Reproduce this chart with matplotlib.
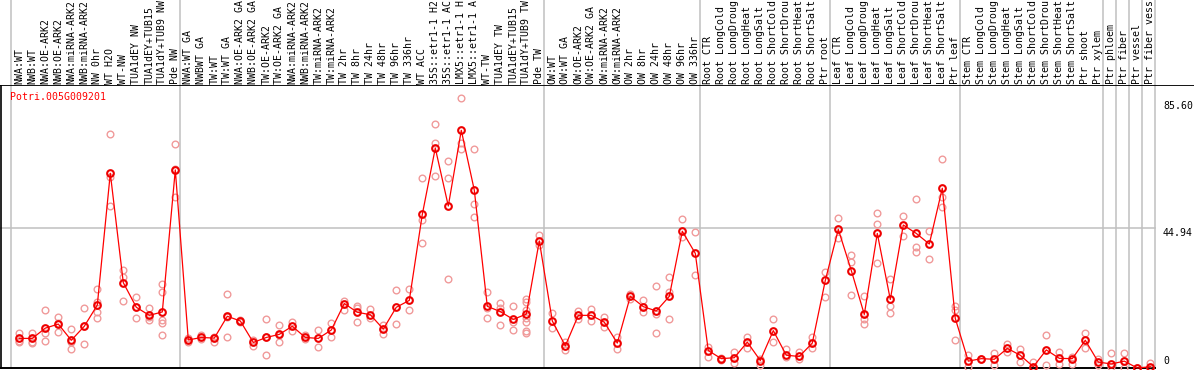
import matplotlib
matplotlib.use('Agg')
import matplotlib.pyplot as plt
import numpy as np

# 1. Data
gene = 'Potri.005G009201'

group_sizes = [13, 28, 12, 10, 10, 11, 1, 1, 1, 1]

samples = [
    'NWA:WT', 'NWB:WT', 'NWA:OE-ARK2', 'NWB:OE-ARK2', 'NWA:miRNA-ARK2', 'NWB:miRNA-ARK2',
    'NW 0hr', 'WT H2O', 'WT-NW', 'TUA1dEY NW', 'TUA1dEY+TUB15', 'TUA1dY+TUB9 NW', 'Pde NW',
    'NWA:WT GA', 'NWBWT GA', 'TW:WT', 'TW:WT GA', 'NWA:OE-ARK2 GA', 'NWB:OE-ARK2 GA',
    'TW:OE-ARK2', 'TW:OE-ARK2 GA', 'NWA:miRNA-ARK2 GA', 'NWB:miRNA-ARK2 GA', 'TW:miRNA-ARK2',
    'TW:miRNA-ARK2 GA', 'TW 2hr', 'TW 8hr', 'TW 24hr', 'TW 48hr', 'TW 96hr', 'TW 336hr',
    'WT ACC', '35S::etr1-1 H2O', '35S::etr1-1 ACC', 'LMX5::etr1-1 H2O', 'LMX5::etr1-1 ACC',
    'WT-TW', 'TUA1dEY TW', 'TUA1dEY+TUB15', 'TUA1dY+TUB9 TW', 'Pde TW',
    'OW:WT', 'OW:WT GA', 'OW:OE-ARK2', 'OW:OE-ARK2 GA', 'OW:miRNA-ARK2', 'OW:miRNA-ARK2 GA',
    'OW 2hr', 'OW 8hr', 'OW 24hr', 'OW 48hr', 'OW 96hr', 'OW 336hr',
    'Root CTR', 'Root LongCold', 'Root LongDrought', 'Root LongHeat', 'Root LongSalt',
    'Root ShortCold', 'Root ShortDrought', 'Root ShortHeat', 'Root ShortSalt', 'Ptr root',
    'Leaf CTR', 'Leaf LongCold', 'Leaf LongDrought', 'Leaf LongHeat', 'Leaf LongSalt',
    'Leaf ShortCold', 'Leaf ShortDrought', 'Leaf ShortHeat', 'Leaf ShortSalt', 'Ptr leaf',
    'Stem CTR', 'Stem LongCold', 'Stem LongDrought', 'Stem LongHeat', 'Stem LongSalt',
    'Stem ShortCold', 'Stem ShortDrought', 'Stem ShortHeat', 'Stem ShortSalt', 'Ptr shoot',
    'Ptr xylem', 'Ptr phloem', 'Ptr fiber', 'Ptr vessel', 'Ptr fiber vessel',
]

means = [
    9.5, 9.5, 12.8, 14.1, 8.9, 13.4, 20.2, 62.5, 27.4, 19.5, 16.9, 18.0, 63.6,
    9.0, 9.8, 9.6, 16.6, 15.1, 8.2, 9.8, 10.8, 13.4, 9.8, 9.5, 12.2, 20.7, 17.9, 17.1,
    12.5, 19.5, 21.7, 49.3, 70.6, 52.0, 76.3, 57.1, 19.8, 18.1, 15.6, 17.3, 40.8,
    15.1, 7.1, 16.9, 16.9, 14.7, 8.0, 23.0, 19.7, 18.3, 23.0, 43.9, 36.8,
    5.6, 3.0, 3.3, 8.3, 2.4, 12.0, 4.1, 3.7, 8.0, 28.1,
    44.5, 31.3, 17.2, 43.2, 22.0, 45.9, 43.2, 39.8, 57.7, 15.9,
    2.2, 3.0, 2.8, 6.3, 4.1, 0.4, 5.8, 3.1, 3.0, 8.9, 1.9,
    1.3, 2.2, 0.0, 0.4,
]

replicates = [
    [11.3, 8.5, 8.7], [11.1, 8.5, 8.1], [18.6, 11.3, 8.7], [16.3, 14.4, 11.6],
    [12.4, 8.3, 6.0], [19.2, 13.4, 7.6], [25.3, 21.2, 18.1, 15.9], [75.0, 61.2, 52.0],
    [31.5, 29.3, 21.5], [22.9, 19.6, 15.9], [19.2, 16.5, 15.4],
    [27.0, 24.3, 15.4, 14.3, 10.6], [71.9, 63.8, 55.0],
    [9.5, 8.5], [10.6, 9.2], [10.1, 8.5], [23.8, 16.3, 9.8], [15.4, 14.8], [9.0, 7.1],
    [15.6, 9.8, 4.1], [13.8, 10.5, 8.2], [14.9, 11.9], [10.6, 9.2], [12.2, 6.6],
    [14.6, 9.8], [21.6, 18.6], [19.9, 19.2, 14.7], [19.0, 16.1], [13.8, 10.8],
    [25.0, 14.1], [25.4, 18.6], [60.9, 47.5, 40.0], [78.3, 72.1, 61.6],
    [66.5, 60.9, 28.5], [86.6, 72.1, 70.2], [70.2, 52.6, 48.5], [24.4, 19.2, 16.2],
    [20.8, 19.2, 13.7], [19.9, 14.7, 12.2], [22.3, 21.2, 18.6, 15.9, 14.8, 11.9, 11.1],
    [42.6, 39.4],
    [17.8, 12.9], [8.5, 5.8], [18.4, 15.8], [18.9, 15.0], [16.3, 13.3], [9.8, 6.0],
    [23.8, 22.3], [21.9, 18.1], [26.3, 17.2, 11.1], [29.1, 24.4, 15.6], [47.8, 42.2],
    [43.6, 29.8],
    [6.8, 3.6], [3.3, 2.6], [5.1, 1.5], [10.1, 6.4], [3.0, 1.0], [15.6, 8.3],
    [6.2, 3.6], [5.1, 3.0], [10.1, 6.3], [30.8, 22.7],
    [48.0, 41.6], [36.3, 34.1, 23.4], [23.1, 15.6, 14.0], [49.7, 46.1, 33.6],
    [28.5, 19.9, 17.6], [48.8, 42.4], [54.1, 38.7, 37.1], [44.0, 34.9],
    [67.0, 54.8, 51.6], [19.9, 18.6, 9.0],
    [4.1, 0.4], [3.0, 3.0], [4.7, 1.0], [7.7, 5.2], [6.2, 1.9], [1.9, 0.0],
    [10.5, 0.9], [5.0, 1.3], [3.4, 1.3], [11.1, 6.4], [3.0, 0.9],
    [4.7, 0.4], [4.7, 0.0], [0.0, 0.0], [1.7, 0.0],
]

ytick_values = [0, 44.94, 85.60]
ytick_labels = ['0', '44.94', '85.60']

# 2. Pixel layout of the original image
W, H = 1194, 370
col0, pitch = 19.3, 13.0          # x pixel of first column, column spacing
label_bottom = 85                 # black separator line
plot_bottom = 369
zero_px, px_per_unit = 368, 3.115
max_chars = 14                    # the label strip only has room for 14 characters

mono = 'DejaVu Sans Mono'
fs = 7.1
grey = '#c0c0c0'

fig = plt.figure(figsize=(W / 100, H / 100), dpi=100)
xlim = (-col0 / pitch, (W - col0) / pitch)

ax = fig.add_axes([0, (H - plot_bottom) / H, 1, (plot_bottom - label_bottom) / H])
ax_lab = fig.add_axes([0, (H - label_bottom) / H, 1, label_bottom / H])

for a in (ax, ax_lab):
    a.set_xlim(*xlim)
    a.set_xticks([])
    a.set_yticks([])
    for s in a.spines.values():
        s.set_visible(False)

ax.set_ylim((zero_px - plot_bottom) / px_per_unit, (zero_px - label_bottom) / px_per_unit)
ax_lab.set_ylim(0, 1)

# group separators
starts = np.concatenate([[0], np.cumsum(group_sizes)])
for s in starts:
    xs = s - 8.3 / pitch
    ax.axvline(xs, color=grey, lw=1.1, zorder=1)
    ax_lab.axvline(xs, color=grey, lw=1.1, zorder=1)

right_edge = (starts[-1] - 8.3 / pitch - xlim[0]) / (xlim[1] - xlim[0])
ax.axhline(ytick_values[1], xmin=0, xmax=right_edge, color=grey, lw=1.1, zorder=1)

# frame lines
ax.spines['top'].set_visible(True)
ax.spines['top'].set_linewidth(1.3)
ax.axhline(ax.get_ylim()[0] + 0.2, xmin=0, xmax=right_edge, color='black', lw=1.4, zorder=2)
ax.axvline(xlim[0] + 1.2 / pitch, color='black', lw=1.2, zorder=2)

# 3. Replicates and means
x = np.arange(len(means))
for i, reps in enumerate(replicates):
    ax.plot([i] * len(reps), reps, 'o', ms=4.8, mfc='none', mec='#f09a9a', mew=1.0,
            zorder=3, clip_on=False)

ax.plot(x, means, '-', color='#ff0000', lw=0.9, marker='o', ms=4.8, mfc='none',
        mec='#ee0000', mew=1.5, zorder=4, clip_on=False)

# 4. Text
for i, name in enumerate(samples):
    ax_lab.text(i, 0.8 / label_bottom, name[:max_chars].rstrip(), rotation=90,
                ha='center', va='bottom', family=mono, fontsize=fs, color='black')

ax.text(10 / W, 1 - 11.7 / (plot_bottom - label_bottom), gene, transform=ax.transAxes,
        ha='left', va='center', family=mono, fontsize=fs, color='#ff0000')

ytrans = ax.get_yaxis_transform()
for v, lab in zip(ytick_values, ytick_labels):
    va = 'bottom' if v == 0 else 'top'
    yy = v + 0.6 if v == 0 else v
    ax.text(1163 / W, yy, lab, transform=ytrans, ha='left', va=va,
            family=mono, fontsize=fs, color='black')

fig.savefig('out.png', dpi=100)
